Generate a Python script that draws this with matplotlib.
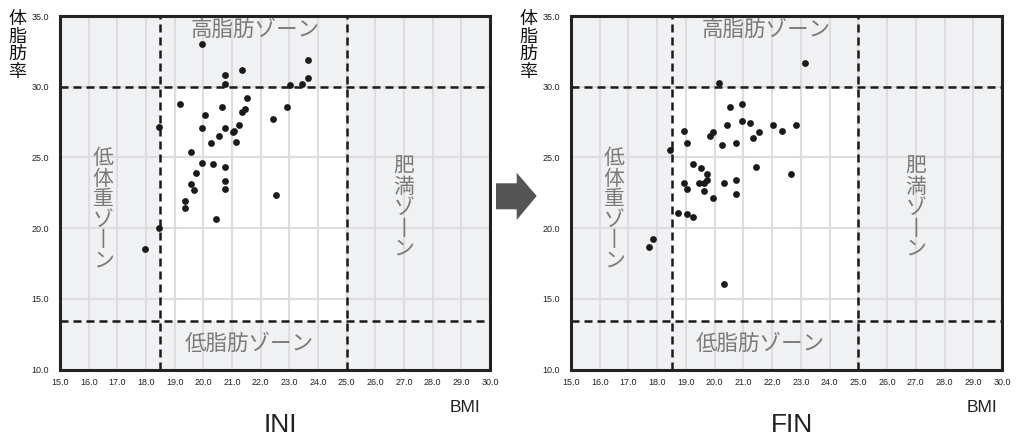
import matplotlib.pyplot as plt
from matplotlib.patches import Polygon

plt.rcParams['font.family'] = ['Liberation Sans', 'Noto Sans CJK JP', 'DejaVu Sans']

# INI values
bmi_ini = [19.95, 23.64, 21.35, 20.76, 20.76, 23.04, 23.43, 23.64, 21.54, 19.17,
           20.65, 22.92, 21.45, 21.35, 20.05, 22.44, 18.47, 19.95, 20.76, 21.24,
           21.06, 21.03, 20.56, 20.25, 21.14, 19.56, 19.95, 20.34, 20.76, 19.75,
           19.56, 19.66, 20.76, 20.76, 22.53, 19.36, 19.36, 20.45, 18.47, 17.97]
fat_ini = [33.0, 31.87, 31.19, 30.81, 30.2, 30.1, 30.22, 30.6, 29.18, 28.8,
           28.59, 28.59, 28.4, 28.19, 27.97, 27.69, 27.17, 27.08, 27.08, 27.27,
           26.89, 26.8, 26.49, 25.99, 26.11, 25.4, 24.6, 24.5, 24.32, 23.9,
           23.12, 22.71, 23.3, 22.8, 22.31, 21.93, 21.42, 20.61, 20.0, 18.5]

# FIN values
bmi_fin = [23.14, 20.14, 20.95, 20.54, 20.94, 21.24, 20.43, 22.03, 22.83, 22.34,
           21.55, 21.35, 18.94, 19.93, 19.84, 19.04, 20.24, 20.75, 18.44, 19.24,
           19.54, 21.44, 19.74, 22.64, 19.74, 18.94, 19.44, 19.64, 20.34, 20.75,
           19.04, 19.64, 19.93, 20.75, 18.74, 19.04, 19.24, 17.84, 17.73, 20.34]
fat_fin = [31.68, 30.27, 28.8, 28.59, 27.6, 27.41, 27.29, 27.29, 27.29, 26.89,
           26.8, 26.4, 26.89, 26.8, 26.49, 25.99, 25.9, 25.99, 25.5, 24.5,
           24.22, 24.32, 23.82, 23.82, 23.42, 23.21, 23.21, 23.21, 23.21, 23.42,
           22.8, 22.59, 22.1, 22.41, 21.1, 21.01, 20.82, 19.24, 18.63, 16.03]

x_ticks = list(range(15, 31))
y_ticks = [10, 15, 20, 25, 30, 35]
bmi_low, bmi_high = 18.5, 25.0
fat_low, fat_high = 13.4, 30.0

W, H = 1018, 436
fig = plt.figure(figsize=(W / 100, H / 100), dpi=100)


def px_axes(x0, x1, y0, y1):
    return fig.add_axes([x0 / W, 1 - y1 / H, (x1 - x0) / W, (y1 - y0) / H])


def draw_panel(ax, bmi, fat, title, bmi_x, ylab_x):
    ax.set_facecolor('#f0f1f3')
    ax.set_xlim(15, 30)
    ax.set_ylim(10, 35)
    ax.axvspan(bmi_low, bmi_high, ymin=(fat_low - 10) / 25, ymax=(fat_high - 10) / 25,
               color='white', zorder=0.1, lw=0)
    ax.set_axisbelow(True)
    ax.set_xticks(x_ticks)
    ax.set_yticks(y_ticks)
    ax.set_xticklabels([f'{v:.1f}' for v in x_ticks])
    ax.set_yticklabels([f'{v:.1f}' for v in y_ticks])
    ax.grid(True, color='#dddddf', lw=1.5)
    ax.tick_params(length=0, labelsize=6.5, colors='#222222')
    ax.tick_params(axis='y', pad=8)
    ax.tick_params(axis='x', pad=6)
    for s in ax.spines.values():
        s.set_linewidth(2.2)
        s.set_color('#222222')

    dash = (0, (3.2, 2))
    for v in (bmi_low, bmi_high):
        ax.axvline(v, color='#1a1a1a', lw=1.8, ls=dash, zorder=2)
    for v in (fat_low, fat_high):
        ax.axhline(v, color='#1a1a1a', lw=1.8, ls=dash, zorder=2)

    ax.scatter(bmi, fat, s=24, color='#1a1a1a', lw=0, zorder=3)

    zc = '#7a7a7a'
    ax.text(21.8, 33.95, '高脂肪ゾーン', ha='center', va='center', fontsize=15.5, color=zc)
    ax.text(21.6, 11.75, '低脂肪ゾーン', ha='center', va='center', fontsize=15.5, color=zc)
    ax.text(16.5, 21.3, '低\n体\n重\nゾ\n丨\nン', ha='center', va='center',
            fontsize=15, color=zc, linespacing=1.1)
    ax.text(27.0, 21.4, '肥\n満\nゾ\n丨\nン', ha='center', va='center',
            fontsize=15, color=zc, linespacing=1.1)

    fig.text(bmi_x / W, 1 - 407 / H, 'BMI', ha='center', va='center', fontsize=12.5, color='#222222')
    x0 = ax.get_position().x0 + ax.get_position().width / 2
    fig.text(x0 + 0.005, 1 - 432 / H, title, ha='center', va='baseline', fontsize=19, color='#222222')
    fig.text(ylab_x / W, 1 - 46 / H, '体\n脂\n肪\n率', ha='center', va='center',
             fontsize=13, color='#111111', linespacing=1.05)


ax1 = px_axes(60, 490, 16, 369.5)
ax2 = px_axes(571, 1002, 16, 369.5)
draw_panel(ax1, bmi_ini, fat_ini, 'INI', 465, 17)
draw_panel(ax2, bmi_fin, fat_fin, 'FIN', 982, 528)

# block arrow between the panels
arrow_px = [(496, 183.3), (516.7, 183.3), (516.7, 172.7), (536.7, 196),
            (516.7, 220), (516.7, 209.3), (496, 209.3)]
fig.patches.append(Polygon([(x / W, 1 - y / H) for x, y in arrow_px], closed=True,
                           transform=fig.transFigure, facecolor='#555555', edgecolor='none'))

fig.savefig('out.png', dpi=100)
